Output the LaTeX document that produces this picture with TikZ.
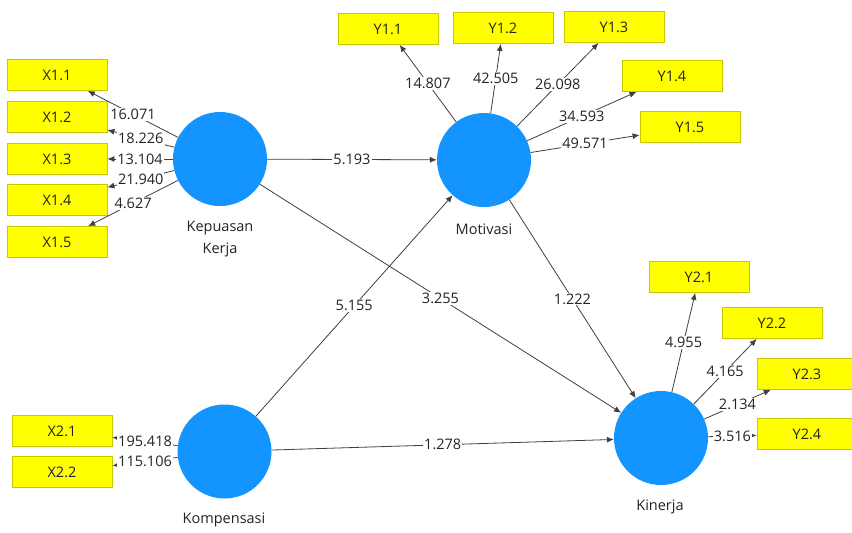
\documentclass[tikz,border=0pt]{standalone}
\usepackage{fontspec}
\setmainfont{Open Sans}
\usetikzlibrary{arrows.meta}
\definecolor{lvblue}{RGB}{20,148,255}
\definecolor{boxyellow}{RGB}{255,255,0}
\definecolor{boxborder}{RGB}{200,200,0}
\definecolor{linegray}{RGB}{64,64,64}
\definecolor{txt}{RGB}{35,35,35}
\begin{document}
\begin{tikzpicture}[x=1pt,y=-1pt, font=\fontsize{14.5}{22}\selectfont,
 lv/.style={circle, fill=lvblue, minimum size=94pt, inner sep=0pt},
 ind/.style={rectangle, fill=boxyellow, draw=boxborder, line width=0.8pt, minimum width=100pt, minimum height=31pt, inner sep=0pt, text=txt},
 pth/.style={draw=linegray, line width=0.8pt, -{Latex[length=7pt,width=6pt]}},
 val/.style={fill=white, inner sep=1pt, text=txt},
 lvcaption/.style={text=txt, align=center}]
\useasboundingbox (0,0) rectangle (852,533);
\fill[white] (0,0) rectangle (852,533);
\clip (0,0) rectangle (852,533);
% latent variables
\node[lv] (kk) at (220,159) {};
\node[lv] (mot) at (484,160) {};
\node[lv] (komp) at (224.5,451.5) {};
\node[lv] (kin) at (661,438) {};
\node[lvcaption] (kkcap) at (220,239) {Kepuasan\\Kerja};
\node[lvcaption] (motcap) at (484,229) {Motivasi};
\node[lvcaption] (kompcap) at (224,520) {Kompensasi};
\node[lvcaption] (kincap) at (660,507) {Kinerja};
% indicators
\node[ind] (x11) at (57,75) {X1.1};
\node[ind] (x12) at (57,117) {X1.2};
\node[ind] (x13) at (57,159) {X1.3};
\node[ind] (x14) at (57,200) {X1.4};
\node[ind] (x15) at (57,242) {X1.5};
\node[ind] (x21) at (62,431) {X2.1};
\node[ind] (x22) at (62,472) {X2.2};
\node[ind] (y11) at (388,29) {Y1.1};
\node[ind] (y12) at (503,28) {Y1.2};
\node[ind] (y13) at (614,27) {Y1.3};
\node[ind] (y14) at (672,76) {Y1.4};
\node[ind] (y15) at (690,127) {Y1.5};
\node[ind] (y21) at (699,277) {Y2.1};
\node[ind] (y22) at (772,323) {Y2.2};
\node[ind] (y23) at (807,374) {Y2.3};
\node[ind] (y24) at (807,434) {Y2.4};
% outer model
\draw[pth] (kk) -- node[val] {16.071} (x11);
\draw[pth] (kk) -- node[val] {18.226} (x12);
\draw[pth] (kk) -- node[val] {13.104} (x13);
\draw[pth] (kk) -- node[val] {21.940} (x14);
\draw[pth] (kk) -- node[val] {4.627} (x15);
\draw[pth] (komp) -- node[val] {195.418} (x21);
\draw[pth] (komp) -- node[val] {115.106} (x22);
\draw[pth] (mot) -- node[val] {14.807} (y11);
\draw[pth] (mot) -- node[val] {42.505} (y12);
\draw[pth] (mot) -- node[val] {26.098} (y13);
\draw[pth] (mot) -- node[val] {34.593} (y14);
\draw[pth] (mot) -- node[val] {49.571} (y15);
\draw[pth] (kin) -- node[val] {4.955} (y21);
\draw[pth] (kin) -- node[val] {4.165} (y22);
\draw[pth] (kin) -- node[val] {2.134} (y23);
\draw[pth] (kin) -- node[val] {3.516} (y24);
% inner model
\draw[pth] (kk) -- node[val] {5.193} (mot);
\draw[pth] (kk) -- node[val] {3.255} (kin);
\draw[pth] (komp) -- node[val] {5.155} (mot);
\draw[pth] (mot) -- node[val] {1.222} (kin);
\draw[pth] (komp) -- node[val] {1.278} (kin);
\end{tikzpicture}
\end{document}
